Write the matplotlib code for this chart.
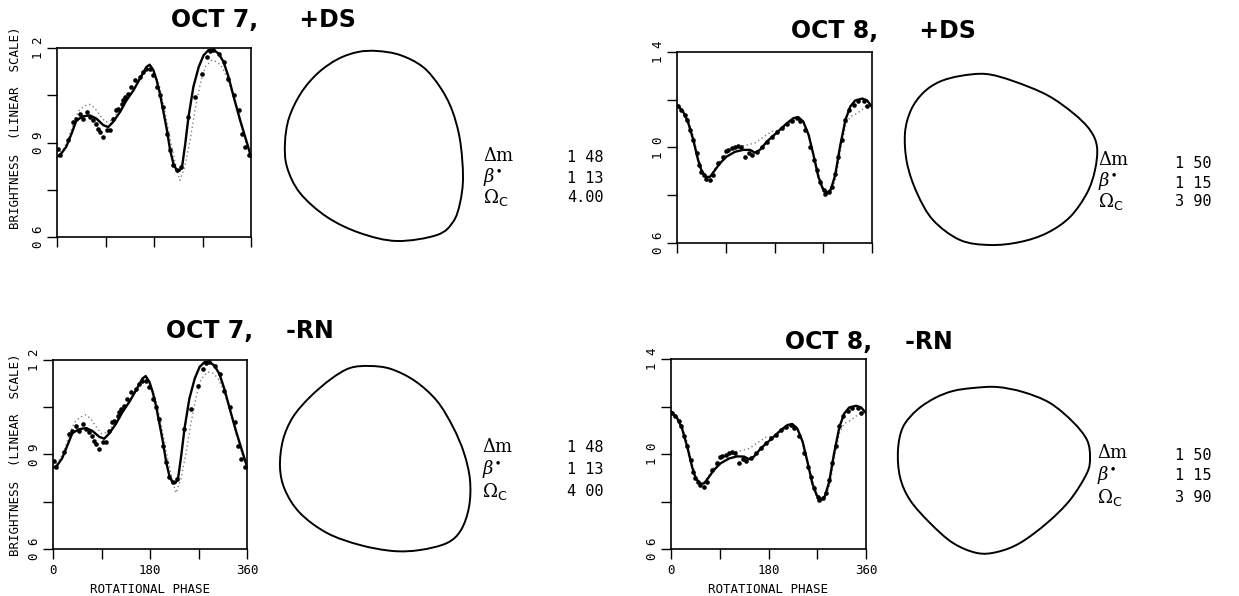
import matplotlib
matplotlib.use("Agg")
from matplotlib import pyplot as plt
from matplotlib.path import Path
from matplotlib.patches import PathPatch

W, H = 1239, 596

# ---- observed brightness (shared by both model fits of a night)
oct7_obs_phase = [2, 5, 20, 30, 36, 42, 48, 56, 61, 67, 73, 76, 79, 86, 92, 98, 104, 110,
                  114, 120, 123, 126, 132, 138, 145, 154, 160, 166, 173, 179, 185, 191,
                  197, 204, 210, 216, 222, 231, 244, 256, 269, 278, 284, 290, 300, 309,
                  318, 328, 337, 343, 349, 356]
oct7_obs_bright = [0.880, 0.859, 0.907, 0.965, 0.976, 0.992, 0.976, 0.997, 0.981, 0.970,
                   0.960, 0.944, 0.933, 0.917, 0.939, 0.939, 0.976, 1.002, 1.007, 1.023,
                   1.034, 1.044, 1.055, 1.076, 1.097, 1.108, 1.124, 1.134, 1.134, 1.113,
                   1.076, 1.050, 1.013, 0.928, 0.875, 0.828, 0.812, 0.822, 0.981, 1.044,
                   1.119, 1.171, 1.190, 1.193, 1.182, 1.156, 1.103, 1.050, 1.002, 0.928,
                   0.886, 0.859]

oct8_obs_phase = [2, 8, 14, 19, 24, 30, 36, 40, 45, 49, 54, 61, 67, 76, 85, 90, 95, 101,
                  107, 113, 119, 125, 132, 138, 147, 156, 166, 175, 184, 193, 203, 212,
                  221, 227, 237, 246, 252, 258, 264, 271, 274, 280, 286, 292, 298, 304,
                  311, 317, 326, 335, 345, 351]
oct8_obs_bright = [1.174, 1.158, 1.137, 1.116, 1.074, 1.032, 0.975, 0.926, 0.898, 0.884,
                   0.870, 0.863, 0.884, 0.933, 0.961, 0.987, 0.990, 0.997, 1.004, 1.008,
                   1.004, 0.961, 0.978, 0.969, 0.983, 1.004, 1.025, 1.046, 1.067, 1.081,
                   1.099, 1.113, 1.123, 1.109, 1.074, 1.004, 0.947, 0.905, 0.856, 0.821,
                   0.807, 0.814, 0.835, 0.891, 0.961, 1.032, 1.116, 1.158, 1.179, 1.193,
                   1.193, 1.174]

# ---- model light curves: solid = adopted fit, dotted = comparison model
oct7_ds_phase = [0, 8, 17, 27, 36, 48, 61, 73, 86, 95, 104, 117, 129, 142, 154, 166, 172,
                 179, 185, 191, 197, 204, 210, 216, 222, 227, 232, 238, 244, 253, 263, 272,
                 281, 290, 300, 309, 318, 328, 340, 353, 360]
oct7_ds_solid = [0.854, 0.865, 0.886, 0.928, 0.970, 0.983, 0.986, 0.976, 0.955, 0.949,
                 0.965, 0.997, 1.034, 1.066, 1.103, 1.140, 1.147, 1.129, 1.097, 1.055,
                 1.002, 0.939, 0.875, 0.833, 0.812, 0.810, 0.822, 0.896, 0.981, 1.076,
                 1.140, 1.177, 1.193, 1.195, 1.182, 1.156, 1.110, 1.044, 0.970, 0.896,
                 0.854]
oct7_ds_dot_phase = [0, 10, 20, 30, 40, 50, 60, 70, 80, 90, 100, 110, 120, 130, 140, 150,
                     160, 170, 178, 190, 200, 210, 220, 228, 237, 247, 256, 266, 275, 287,
                     297, 306, 315, 328, 340, 352, 360]
oct7_ds_dotted = [0.860, 0.875, 0.905, 0.960, 1.000, 1.015, 1.021, 1.010, 0.985, 0.965,
                  0.970, 0.990, 1.010, 1.035, 1.060, 1.090, 1.125, 1.143, 1.135, 1.080,
                  1.000, 0.910, 0.830, 0.780, 0.822, 0.907, 1.002, 1.087, 1.140, 1.161,
                  1.156, 1.140, 1.108, 1.044, 0.965, 0.895, 0.860]

oct7_rn_phase = oct7_ds_phase
oct7_rn_solid = [0.857, 0.866, 0.888, 0.930, 0.968, 0.980, 0.984, 0.975, 0.956, 0.950,
                 0.966, 0.998, 1.035, 1.068, 1.104, 1.141, 1.149, 1.130, 1.098, 1.056,
                 1.003, 0.940, 0.876, 0.832, 0.810, 0.809, 0.823, 0.897, 0.982, 1.077,
                 1.141, 1.178, 1.193, 1.195, 1.181, 1.155, 1.108, 1.045, 0.972, 0.900,
                 0.862]
oct7_rn_dot_phase = oct7_ds_dot_phase
oct7_rn_dotted = [0.862, 0.878, 0.908, 0.962, 1.002, 1.018, 1.026, 1.014, 0.988, 0.966,
                  0.970, 0.990, 1.010, 1.035, 1.060, 1.090, 1.125, 1.143, 1.136, 1.080,
                  1.000, 0.910, 0.830, 0.778, 0.820, 0.905, 1.000, 1.085, 1.140, 1.162,
                  1.158, 1.142, 1.110, 1.045, 0.966, 0.896, 0.862]

oct8_ds_phase = [0, 11, 20, 30, 39, 45, 53, 61, 70, 79, 91, 107, 122, 135, 144, 153, 166,
                 184, 203, 215, 224, 233, 243, 252, 261, 269, 277, 284, 292, 301, 311, 320,
                 329, 342, 351, 360]
oct8_ds_solid = [1.178, 1.151, 1.109, 1.032, 0.947, 0.905, 0.877, 0.877, 0.905, 0.933,
                 0.961, 0.982, 0.990, 0.990, 0.978, 0.990, 1.025, 1.062, 1.102, 1.123,
                 1.127, 1.109, 1.053, 0.968, 0.877, 0.828, 0.810, 0.824, 0.884, 1.004,
                 1.116, 1.172, 1.197, 1.205, 1.197, 1.170]
oct8_ds_dot_phase = [0, 11, 20, 30, 39, 47, 55, 63, 72, 85, 100, 115, 130, 145, 160, 175,
                     190, 205, 220, 230, 240, 250, 260, 270, 278, 286, 294, 302, 311, 320,
                     330, 340, 350, 360]
oct8_ds_dotted = [1.178, 1.155, 1.120, 1.050, 0.960, 0.900, 0.875, 0.885, 0.920, 0.960,
                  0.990, 1.005, 1.010, 1.020, 1.045, 1.068, 1.072, 1.095, 1.120, 1.115,
                  1.070, 0.990, 0.900, 0.830, 0.805, 0.820, 0.880, 0.990, 1.090, 1.130,
                  1.140, 1.155, 1.175, 1.170]

oct8_rn_phase = oct8_ds_phase
oct8_rn_solid = [1.180, 1.153, 1.110, 1.030, 0.945, 0.902, 0.875, 0.876, 0.903, 0.932,
                 0.960, 0.981, 0.990, 0.989, 0.978, 0.989, 1.024, 1.061, 1.101, 1.122,
                 1.126, 1.108, 1.052, 0.966, 0.875, 0.826, 0.808, 0.822, 0.882, 1.002,
                 1.115, 1.171, 1.196, 1.203, 1.196, 1.172]
oct8_rn_dot_phase = oct8_ds_dot_phase
oct8_rn_dotted = [1.180, 1.156, 1.121, 1.050, 0.958, 0.898, 0.874, 0.884, 0.920, 0.962,
                  0.992, 1.008, 1.014, 1.024, 1.048, 1.070, 1.074, 1.096, 1.120, 1.114,
                  1.068, 0.988, 0.898, 0.828, 0.803, 0.818, 0.878, 0.988, 1.088, 1.128,
                  1.140, 1.156, 1.176, 1.172]

# ---- pole-on model outlines (local units of the sketch frame)
shape_oct7_ds_x = [97, 120, 143, 160, 172, 180, 183, 180, 173, 157, 117, 80, 47, 20, 7, 5,
                   9, 21, 38, 58, 78]
shape_oct7_ds_y = [194, 190, 178, 158, 135, 105, 68, 42, 23, 10, 4, 12, 28, 52, 78, 102,
                   127, 152, 172, 186, 193]
shape_oct8_ds_x = [60, 86, 113, 147, 173, 190, 197, 195, 187, 170, 147, 120, 90, 60, 33,
                   17, 7, 5, 11, 23, 39]
shape_oct8_ds_y = [174, 176, 169, 155, 137, 120, 103, 80, 57, 33, 17, 8, 5, 10, 30, 57,
                   87, 117, 140, 157, 168]
shape_oct7_rn_x = [95, 116, 140, 162, 178, 189, 195, 194, 186, 172, 145, 118, 85, 52, 25,
                   10, 5, 8, 18, 35, 56, 75]
shape_oct7_rn_y = [189, 186, 174, 154, 128, 102, 75, 48, 25, 12, 5, 4, 10, 22, 42, 65, 88,
                   115, 138, 158, 176, 187]
shape_oct8_rn_x = [83, 107, 133, 160, 183, 197, 200, 197, 180, 157, 130, 107, 87, 63, 40,
                   20, 10, 8, 13, 27, 45, 63]
shape_oct8_rn_y = [172, 173, 168, 157, 138, 120, 103, 87, 60, 37, 17, 8, 7, 17, 37, 60,
                   83, 110, 133, 150, 162, 169]

# ---- fitted parameters
param_symbols = ['\u0394m', r'$\beta^{\bullet}$', r'$\Omega_{\mathsf{C}}$']
params_oct7_ds = ['1 48', '1 13', '4.00']
params_oct7_rn = ['1 48', '1 13', '4 00']
params_oct8_ds = ['1 50', '1 15', '3 90']
params_oct8_rn = ['1 50', '1 15', '3 90']

plt.rcParams['mathtext.fontset'] = 'dejavuserif'
MONO = 'DejaVu Sans Mono'


def px_axes(fig, left, top, right, bottom):
    return fig.add_axes([left / W, 1 - bottom / H, (right - left) / W, (bottom - top) / H])


def light_curve(fig, box, ylim, yticks, ylabels, obs, solid, dotted,
                show_x=False, show_ylabel=False, ylabel_pos=(-0.18, 0.58)):
    ax = px_axes(fig, *box)
    ax.plot(dotted[0], dotted[1], linestyle=(0, (1, 2)), color='#808080', lw=1.0)
    ax.plot(solid[0], solid[1], color='black', lw=1.7)
    ax.scatter(obs[0], obs[1], s=11, color='black', zorder=3, linewidths=0)
    ax.set_xlim(0, 360)
    ax.set_ylim(*ylim)
    ax.set_xticks([0, 90, 180, 270, 360])
    if show_x:
        ax.set_xticklabels(['0', '', '180', '', '360'], fontfamily=MONO, fontsize=9)
        ax.set_xlabel('ROTATIONAL PHASE', fontfamily=MONO, fontsize=9, labelpad=4)
    else:
        ax.set_xticklabels([])
    ax.set_yticks(yticks)
    ax.set_yticklabels(ylabels, fontfamily=MONO, fontsize=9, rotation=90, va='center')
    ax.tick_params(direction='out', length=7, width=1, pad=2, color='black')
    ax.tick_params(axis='x', pad=4)
    for sp in ax.spines.values():
        sp.set_linewidth(1.2)
    if show_ylabel:
        ax.set_ylabel('BRIGHTNESS  (LINEAR  SCALE)', fontfamily=MONO, fontsize=9)
        ax.yaxis.set_label_coords(*ylabel_pos)
    return ax


def outline(fig, box, xs, ys):
    # closed smooth curve through the read outline points (Bezier segments)
    ax = px_axes(fig, *box)
    pts = list(zip(xs, ys))
    n = len(pts)
    verts = [pts[0]]
    codes = [Path.MOVETO]
    for i in range(n):
        p0, p1 = pts[i - 1], pts[i]
        p2, p3 = pts[(i + 1) % n], pts[(i + 2) % n]
        c1 = (p1[0] + (p2[0] - p0[0]) / 6, p1[1] + (p2[1] - p0[1]) / 6)
        c2 = (p2[0] - (p3[0] - p1[0]) / 6, p2[1] - (p3[1] - p1[1]) / 6)
        verts += [c1, c2, p2]
        codes += [Path.CURVE4] * 3
    ax.add_patch(PathPatch(Path(verts, codes), fill=False, edgecolor='black', lw=1.4))
    ax.set_xlim(0, box[2] - box[0])
    ax.set_ylim(0, box[3] - box[1])
    ax.axis('off')


def params(fig, x_sym, x_val, ys_sym, ys_val, values):
    for sym, y in zip(param_symbols, ys_sym):
        fig.text(x_sym / W, 1 - y / H, sym, fontsize=13, family='DejaVu Serif',
                 va='center', ha='left')
    for val, y in zip(values, ys_val):
        fig.text(x_val / W, 1 - y / H, val, fontsize=11, family=MONO,
                 va='center', ha='left')


def title(fig, x, y, text):
    fig.text(x / W, 1 - y / H, text, fontsize=17, fontweight='bold',
             family='DejaVu Sans', va='center', ha='left')


fig = plt.figure(figsize=(W / 100, H / 100), dpi=100)

y7 = [0.6, 0.75, 0.9, 1.05, 1.2]
y7l = ['0 6', '', '0 9', '', '1 2']
y8 = [0.6, 0.8, 1.0, 1.2, 1.4]
y8l = ['0 6', '', '1 0', '', '1 4']

light_curve(fig, (57, 48, 251, 237), (0.6, 1.2), y7, y7l,
            (oct7_obs_phase, oct7_obs_bright), (oct7_ds_phase, oct7_ds_solid),
            (oct7_ds_dot_phase, oct7_ds_dotted), show_ylabel=True,
            ylabel_pos=(-0.18, 0.58))
light_curve(fig, (677, 52, 872, 243), (0.6, 1.4), y8, y8l,
            (oct8_obs_phase, oct8_obs_bright), (oct8_ds_phase, oct8_ds_solid),
            (oct8_ds_dot_phase, oct8_ds_dotted))
light_curve(fig, (53, 360, 247, 549), (0.6, 1.2), y7, y7l,
            (oct7_obs_phase, oct7_obs_bright), (oct7_rn_phase, oct7_rn_solid),
            (oct7_rn_dot_phase, oct7_rn_dotted), show_x=True, show_ylabel=True,
            ylabel_pos=(-0.16, 0.50))
light_curve(fig, (671, 359, 866, 549), (0.6, 1.4), y8, y8l,
            (oct8_obs_phase, oct8_obs_bright), (oct8_rn_phase, oct8_rn_solid),
            (oct8_rn_dot_phase, oct8_rn_dotted), show_x=True)

outline(fig, (280, 45, 470, 245), shape_oct7_ds_x, shape_oct7_ds_y)
outline(fig, (900, 70, 1100, 250), shape_oct8_ds_x, shape_oct8_ds_y)
outline(fig, (275, 360, 475, 555), shape_oct7_rn_x, shape_oct7_rn_y)
outline(fig, (890, 380, 1100, 560), shape_oct8_rn_x, shape_oct8_rn_y)

title(fig, 171, 20, 'OCT 7,     +DS')
title(fig, 791, 31, 'OCT 8,     +DS')
title(fig, 166, 331, 'OCT 7,    -RN')
title(fig, 785, 342, 'OCT 8,    -RN')

params(fig, 483, 567, [156, 177, 198], [157, 178, 197], params_oct7_ds)
params(fig, 1098, 1175, [160, 181, 201], [164, 183, 201], params_oct8_ds)
params(fig, 482, 567, [447, 469, 491], [448, 469, 491], params_oct7_rn)
params(fig, 1097, 1175, [453, 475, 497], [455, 476, 497], params_oct8_rn)

fig.savefig('out.png', dpi=100)
